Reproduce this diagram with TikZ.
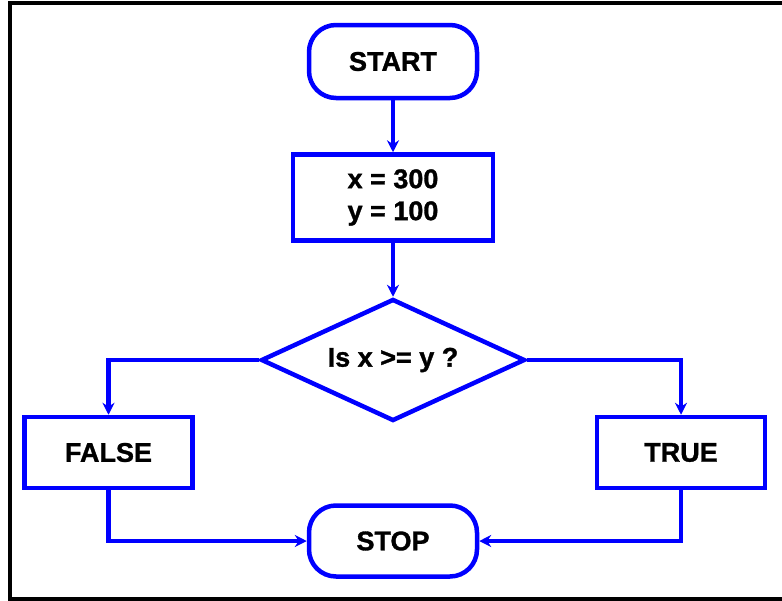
\documentclass[tikz,border=0pt]{standalone}
\usepackage{fontspec}
\setmainfont{Liberation Sans}
\newfontfamily\flowfont{Liberation Sans Bold}[FakeBold=1.2]
\usepackage{tikz}
\usetikzlibrary{arrows.meta,positioning,shapes.geometric}
\usepackage{xcolor}
\definecolor{flowblue}{HTML}{0000FF}
\tikzset{
  termbox/.style={
    rounded corners=27pt,
    draw=flowblue,
    line width=4.5pt,
    minimum width=168pt,
    minimum height=73pt,
    align=center,
    font=\fontsize{27}{32}\flowfont
  },
  procbox/.style={
    draw=flowblue,
    line width=4.5pt,
    minimum width=168pt,
    minimum height=71pt,
    align=center,
    font=\fontsize{27}{32}\flowfont
  },
  decbox/.style={
    diamond,
    aspect=2.16,
    inner sep=0pt,
    draw=flowblue,
    line width=4.5pt,
    minimum width=264pt,
    minimum height=122pt,
    align=center,
    font=\fontsize{27}{32}\flowfont
  },
  arrow/.style={
    -{Stealth[length=12pt,width=12pt,inset=4pt]},
    line width=4.5pt,
    draw=flowblue
  }
}
\begin{document}
\begin{tikzpicture}[x=1pt,y=-1pt]
\useasboundingbox (0,0) rectangle (782,600);
% frame
\draw[line width=4pt] (790,3) -- (10,3) -- (10,598.5) -- (790,598.5);
\node[termbox] (start) at (393,61.5) {START};
\node[procbox, minimum width=200pt, minimum height=86pt, below=52pt of start] (init) {x = 300\\y = 100};
\node[decbox, below=54pt of init] (test) {Is x >= y ?};
\node[procbox] (false) at (108.5,452.5) {FALSE};
\node[procbox] (true) at (681,452.5) {TRUE};
\node[termbox, minimum height=71pt] (stop) at (393,541) {STOP};
\draw[arrow] (start) -- (init);
\draw[arrow] (init) -- (test);
\draw[arrow] (test.west) -| (false.north);
\draw[arrow] (test.east) -| (true.north);
\draw[arrow] (false.south) |- (stop.west);
\draw[arrow] (true.south) |- (stop.east);
\end{tikzpicture}
\end{document}
